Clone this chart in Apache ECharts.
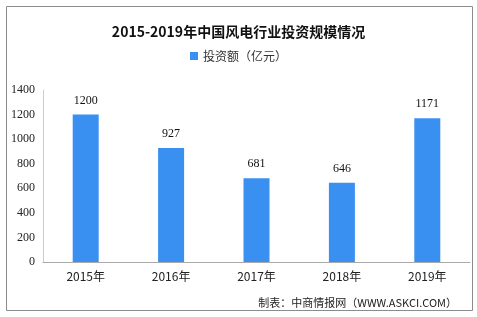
<!DOCTYPE html>
<html><head><meta charset="utf-8">
<script src="https://cdn.jsdelivr.net/npm/echarts@6/dist/echarts.min.js"></script>
<style>html,body{margin:0;padding:0;background:#fff}#c{width:477px;height:317px}</style>
</head><body><div id="c"></div>
<script>
const categories = ['2015年','2016年','2017年','2018年','2019年'];
const investment = [1200, 927, 681, 646, 1171];
const yTicks = [0, 200, 400, 600, 800, 1000, 1200, 1400];
const titleText = '2015-2019年中国风电行业投资规模情况';
const seriesName = '投资额（亿元）';
const sourceText = '制表：中商情报网（WWW.ASKCI.COM）';

const chart = echarts.init(document.getElementById('c'), null, {renderer:'canvas'});
chart.setOption({
  animation: false,
  backgroundColor: '#fff',
  graphic: [
    {type:'rect', shape:{x:6.5,y:6.5,width:466,height:304}, style:{fill:'none', stroke:'#8c8c8c', lineWidth:1}},
    {type:'text', right:20, top:297, style:{text:sourceText, font:'11px "Noto Sans CJK SC", sans-serif', fill:'#222'}}
  ],
  title: {text:titleText, left:'center', top:20, textStyle:{fontSize:14, fontWeight:'bold', color:'#111', fontFamily:'"Noto Sans CJK SC", serif'}},
  legend: {top:45, left:'center', itemWidth:8, itemHeight:8, itemGap:5, icon:'rect', textStyle:{fontSize:12, color:'#333', fontFamily:'"Noto Sans CJK SC", sans-serif'}, data:[seriesName]},
  grid: {left:43, right:7, top:90, bottom:55, containLabel:false},
  xAxis: {type:'category', data:categories, axisLine:{lineStyle:{color:'#aaa'}}, axisTick:{show:false},
    axisLabel:{color:'#222', fontSize:12, margin:8, fontFamily:'"Noto Sans CJK SC", sans-serif'}},
  yAxis: {type:'value', min:yTicks[0], max:yTicks[yTicks.length-1], interval:200,
    axisLine:{show:true, lineStyle:{color:'#ccc'}}, axisTick:{show:false}, splitLine:{show:false},
    axisLabel:{color:'#222', fontSize:12, margin:8, fontFamily:'"Liberation Serif", serif', formatter:function(v){return String(v);}}},
  series: [{name:seriesName, type:'bar', data:investment, barWidth:26,
    itemStyle:{color:'#3a90f0'},
    label:{show:true, position:'top', distance:8, color:'#111', fontSize:12, fontFamily:'"Liberation Serif", serif'}}]
});
</script></body></html>
